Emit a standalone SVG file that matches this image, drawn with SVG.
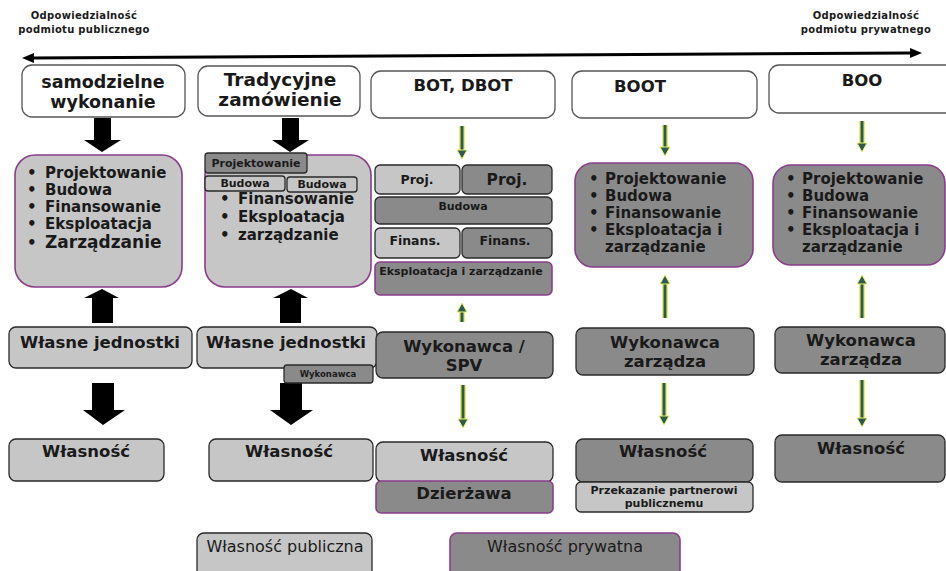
<svg xmlns="http://www.w3.org/2000/svg" width="946" height="571" viewBox="0 0 946 571">
<style>
text{font-family:"DejaVu Sans","Liberation Sans",sans-serif;fill:#1a1a1a}
.b{font-weight:bold}
.hd{font-size:10px;font-weight:bold;letter-spacing:0.3px}
.ttl{font-size:17.5px;font-weight:bold}
.li{font-size:15px;font-weight:bold}
.sm{font-size:11px;font-weight:bold}
.md{font-size:16.5px;font-weight:bold}
.wh{fill:#fff;stroke:#555;stroke-width:1.3}
.lg{fill:#c6c6c6;stroke:#2a2a2a;stroke-width:1.3}
.dg{fill:#8a8a8a;stroke:#2a2a2a;stroke-width:1.3}
.lgp{fill:#c6c6c6;stroke:#8b3d8b;stroke-width:1.6}
.dgp{fill:#8a8a8a;stroke:#8b3d8b;stroke-width:1.6}
.blk{fill:#000}
.glow{stroke:#e9f06a;stroke-width:6;fill:none}
.gl{stroke:#2c5a4e;stroke-width:3;fill:none}
.gh{fill:#2c5a4e;stroke:#e9f06a;stroke-width:1}
</style>

<g id="connectors">
<line x1="30" y1="58" x2="912" y2="53" stroke="#000" stroke-width="3"/>
<path d="M22,58 L34,53 L34,63 z" fill="#000"/>
<path d="M922,53 L910,48 L910,58 z" fill="#000"/>
<path class="blk" d="M94,118 H111 V140 H121 L102,152 L84,140 H94 z"/>
<path class="blk" d="M92,323 H113 V298 H119 L102,289 L84,298 H92 z"/>
<path class="blk" d="M92,383 H114 V410 H125 L103,425 L83,410 H92 z"/>
<path class="blk" d="M282,118 H299 V140 H309 L290,152 L272,140 H282 z"/>
<path class="blk" d="M280,323 H301 V298 H308 L291,289 L273,298 H280 z"/>
<path class="blk" d="M280,383 H302 V410 H313 L291,425 L270,410 H280 z"/>
<g>
<line class="glow" x1="462" y1="126" x2="462" y2="152"/><line class="gl" x1="462" y1="126" x2="462" y2="152"/><path class="gh" d="M457,150 L467,150 L462,159 z"/>
<line class="glow" x1="462" y1="322" x2="462" y2="310"/><line class="gl" x1="462" y1="322" x2="462" y2="310"/><path class="gh" d="M457,312 L467,312 L462,303 z"/>
<line class="glow" x1="463" y1="385" x2="463" y2="421"/><line class="gl" x1="463" y1="385" x2="463" y2="421"/><path class="gh" d="M458,419 L468,419 L463,428 z"/>
<line class="glow" x1="665" y1="125" x2="665" y2="149"/><line class="gl" x1="665" y1="125" x2="665" y2="149"/><path class="gh" d="M660,147 L670,147 L665,156 z"/>
<line class="glow" x1="665" y1="318" x2="665" y2="282"/><line class="gl" x1="665" y1="318" x2="665" y2="282"/><path class="gh" d="M660,284 L670,284 L665,275 z"/>
<line class="glow" x1="664" y1="383" x2="664" y2="418"/><line class="gl" x1="664" y1="383" x2="664" y2="418"/><path class="gh" d="M659,416 L669,416 L664,425 z"/>
<line class="glow" x1="862" y1="121" x2="862" y2="145"/><line class="gl" x1="862" y1="121" x2="862" y2="145"/><path class="gh" d="M857,143 L867,143 L862,152 z"/>
<line class="glow" x1="862" y1="318" x2="862" y2="282"/><line class="gl" x1="862" y1="318" x2="862" y2="282"/><path class="gh" d="M857,284 L867,284 L862,275 z"/>
<line class="glow" x1="862" y1="380" x2="862" y2="420"/><line class="gl" x1="862" y1="380" x2="862" y2="420"/><path class="gh" d="M857,418 L867,418 L862,427 z"/>
</g>
</g>

<g id="label-public">
<text class="hd" x="84" y="19" text-anchor="middle">Odpowiedzialność</text>
<text class="hd" x="84" y="33" text-anchor="middle">podmiotu publicznego</text>
</g>
<g id="label-private">
<text class="hd" x="866" y="19" text-anchor="middle">Odpowiedzialność</text>
<text class="hd" x="866" y="33" text-anchor="middle">podmiotu prywatnego</text>
</g>

<g id="samodzielne">
<rect class="wh" x="22" y="65" width="163" height="52" rx="10"/>
<text class="ttl" x="103" y="88" text-anchor="middle">samodzielne</text>
<text class="ttl" x="103" y="108" text-anchor="middle">wykonanie</text>
</g>
<g id="c1-zakres">
<rect class="lgp" x="15" y="155" width="167" height="132" rx="20"/>
<text class="li" x="27" y="178">•</text><text class="li" x="45" y="178">Projektowanie</text>
<text class="li" x="27" y="195">•</text><text class="li" x="45" y="195">Budowa</text>
<text class="li" x="27" y="212">•</text><text class="li" x="45" y="212">Finansowanie</text>
<text class="li" x="27" y="229">•</text><text class="li" x="45" y="229">Eksploatacja</text>
<text class="li" x="27" y="248">•</text><text class="li" x="45" y="248" style="font-size:17px">Zarządzanie</text>
</g>
<g id="c1-wlasne">
<rect class="lg" x="9" y="327" width="183" height="41" rx="7"/>
<text class="md" x="100" y="348" text-anchor="middle">Własne jednostki</text>
</g>
<g id="c1-wlasnosc">
<rect class="lg" x="9" y="439" width="155" height="42" rx="7"/>
<text class="md" x="86" y="457" text-anchor="middle">Własność</text>
</g>

<g id="tradycyjne">
<rect class="wh" x="198" y="66" width="162" height="50" rx="10"/>
<text class="ttl" x="280" y="86" text-anchor="middle" style="font-size:18.5px">Tradycyjne</text>
<text class="ttl" x="280" y="106" text-anchor="middle" style="font-size:18.5px">zamówienie</text>
</g>
<g id="c2-zakres">
<rect class="lgp" x="205" y="155" width="166" height="132" rx="20"/>
<text class="li" x="220" y="204">•</text><text class="li" x="238" y="204">Finansowanie</text>
<text class="li" x="220" y="222">•</text><text class="li" x="238" y="222">Eksploatacja</text>
<text class="li" x="220" y="240">•</text><text class="li" x="238" y="240">zarządzanie</text>
</g>
<g id="c2-projektowanie">
<rect class="dg" x="205" y="153" width="102" height="20" rx="3"/>
<text class="sm" x="256" y="167" text-anchor="middle">Projektowanie</text>
</g>
<g id="c2-budowa1">
<rect class="lg" x="205" y="176" width="80" height="15" rx="3"/>
<text class="sm" x="245" y="187" text-anchor="middle">Budowa</text>
</g>
<g id="c2-budowa2">
<rect class="lg" x="287" y="177" width="70" height="15" rx="3"/>
<text class="sm" x="322" y="188" text-anchor="middle">Budowa</text>
</g>
<g id="c2-wlasne">
<rect class="lg" x="197" y="327" width="180" height="41" rx="7"/>
<text class="md" x="286" y="348" text-anchor="middle">Własne jednostki</text>
</g>
<g id="c2-wykonawca">
<rect class="dg" x="284" y="365" width="89" height="18" rx="3"/>
<text x="328" y="377" text-anchor="middle" style="font-size:8.5px;font-weight:bold">Wykonawca</text>
</g>
<g id="c2-wlasnosc">
<rect class="lg" x="209" y="439" width="164" height="42" rx="7"/>
<text class="md" x="289" y="457" text-anchor="middle">Własność</text>
</g>

<g id="bot">
<rect class="wh" x="371" y="71" width="184" height="47" rx="10"/>
<text class="md" x="463" y="91" text-anchor="middle">BOT, DBOT</text>
</g>
<g id="c3-proj1">
<rect class="lg" x="375" y="165" width="85" height="29" rx="5"/>
<text class="b" x="417" y="184" text-anchor="middle" style="font-size:12.5px">Proj.</text>
</g>
<g id="c3-proj2">
<rect class="dg" x="462" y="165" width="90" height="29" rx="5"/>
<text class="b" x="507" y="185" text-anchor="middle" style="font-size:15.5px">Proj.</text>
</g>
<g id="c3-budowa">
<rect class="dg" x="375" y="197" width="177" height="27" rx="5"/>
<text class="sm" x="463" y="210" text-anchor="middle">Budowa</text>
</g>
<g id="c3-finans1">
<rect class="lg" x="375" y="228" width="85" height="30" rx="5"/>
<text class="b" x="415" y="245" text-anchor="middle" style="font-size:12.5px">Finans.</text>
</g>
<g id="c3-finans2">
<rect class="dg" x="462" y="228" width="90" height="30" rx="5"/>
<text class="b" x="505" y="245" text-anchor="middle" style="font-size:12.5px">Finans.</text>
</g>
<g id="c3-eksploatacja">
<rect class="dgp" x="375" y="262" width="177" height="33" rx="5"/>
<text class="sm" x="461" y="275" text-anchor="middle">Eksploatacja i zarządzanie</text>
</g>
<g id="c3-wykonawca">
<rect class="dg" x="376" y="332" width="177" height="46" rx="7"/>
<text class="md" x="464" y="352" text-anchor="middle">Wykonawca /</text>
<text class="md" x="464" y="371" text-anchor="middle">SPV</text>
</g>
<g id="c3-wlasnosc">
<rect class="lg" x="376" y="442" width="177" height="40" rx="7"/>
<text class="md" x="464" y="461" text-anchor="middle">Własność</text>
</g>
<g id="c3-dzierzawa">
<rect class="dgp" x="376" y="481" width="177" height="32" rx="5"/>
<text class="md" x="464" y="499" text-anchor="middle">Dzierżawa</text>
</g>

<g id="boot">
<rect class="wh" x="572" y="71" width="185" height="47" rx="10"/>
<text class="md" x="640" y="92" text-anchor="middle">BOOT</text>
</g>
<g id="c4-zakres">
<rect class="dgp" x="575" y="163" width="178" height="104" rx="18"/>
<text class="li" x="589" y="184">•</text><text class="li" x="605" y="184">Projektowanie</text>
<text class="li" x="589" y="201">•</text><text class="li" x="605" y="201">Budowa</text>
<text class="li" x="589" y="218">•</text><text class="li" x="605" y="218">Finansowanie</text>
<text class="li" x="589" y="235">•</text><text class="li" x="605" y="235">Eksploatacja i</text>
<text class="li" x="605" y="252">zarządzanie</text>
</g>
<g id="c4-wykonawca">
<rect class="dg" x="576" y="328" width="178" height="47" rx="7"/>
<text class="md" x="665" y="348" text-anchor="middle">Wykonawca</text>
<text class="md" x="665" y="367" text-anchor="middle">zarządza</text>
</g>
<g id="c4-wlasnosc">
<rect class="dg" x="576" y="439" width="177" height="43" rx="7"/>
<text class="md" x="663" y="457" text-anchor="middle">Własność</text>
</g>
<g id="c4-przekazanie">
<rect class="lg" x="576" y="482" width="177" height="30" rx="5"/>
<text class="sm" x="664" y="494" text-anchor="middle">Przekazanie partnerowi</text>
<text class="sm" x="664" y="507" text-anchor="middle">publicznemu</text>
</g>

<g id="boo">
<rect class="wh" x="769" y="65" width="190" height="48" rx="10"/>
<text class="md" x="862" y="86" text-anchor="middle">BOO</text>
</g>
<g id="c5-zakres">
<rect class="dgp" x="773" y="165" width="172" height="100" rx="18"/>
<text class="li" x="786" y="184">•</text><text class="li" x="802" y="184">Projektowanie</text>
<text class="li" x="786" y="201">•</text><text class="li" x="802" y="201">Budowa</text>
<text class="li" x="786" y="218">•</text><text class="li" x="802" y="218">Finansowanie</text>
<text class="li" x="786" y="235">•</text><text class="li" x="802" y="235">Eksploatacja i</text>
<text class="li" x="802" y="252">zarządzanie</text>
</g>
<g id="c5-wykonawca">
<rect class="dg" x="775" y="327" width="170" height="46" rx="7"/>
<text class="md" x="861" y="346" text-anchor="middle">Wykonawca</text>
<text class="md" x="861" y="365" text-anchor="middle">zarządza</text>
</g>
<g id="c5-wlasnosc">
<rect class="dg" x="775" y="435" width="170" height="47" rx="7"/>
<text class="md" x="861" y="454" text-anchor="middle">Własność</text>
</g>

<g id="legend-public">
<rect class="lg" x="197" y="533" width="175" height="45" rx="7"/>
<text x="285" y="552" text-anchor="middle" style="font-size:16px">Własność publiczna</text>
</g>
<g id="legend-private">
<rect class="dgp" x="450" y="533" width="230" height="45" rx="7"/>
<text x="565" y="552" text-anchor="middle" style="font-size:16px">Własność prywatna</text>
</g>
</svg>
